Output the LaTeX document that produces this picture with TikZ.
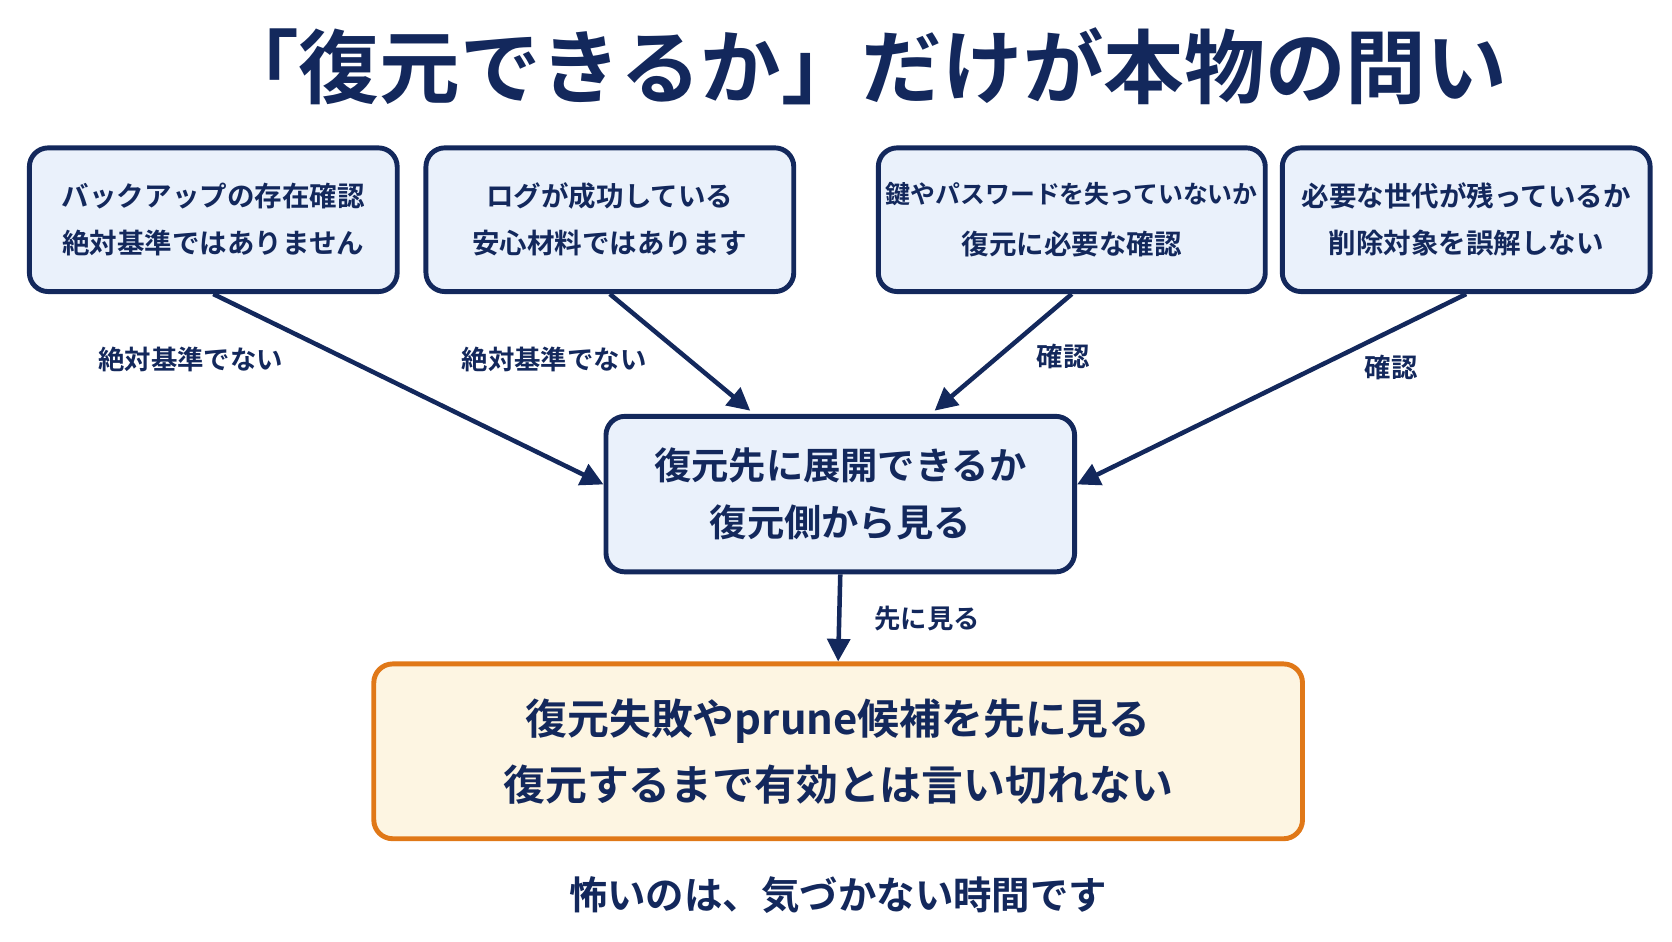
\documentclass[tikz,border=0pt]{standalone}
\usepackage{fontspec}
\setmainfont{Noto Sans CJK JP}[BoldFont={* Bold}]
\usetikzlibrary{calc,arrows.meta}
\definecolor{navy}{HTML}{13285C}
\definecolor{boxfill}{HTML}{EAF1FB}
\definecolor{orng}{HTML}{E07818}
\definecolor{cream}{HTML}{FDF5E2}
\tikzset{
  box/.style={draw=navy,fill=boxfill,line width=1.3pt,rounded corners=5pt,align=center,text=navy,font=\bfseries\fontsize{7.3}{12.5}\selectfont,minimum width=3.43cm,minimum height=1.34cm,inner xsep=2pt},
  lbl/.style={text=navy,font=\bfseries\fontsize{7}{8}\selectfont},
  arr/.style={draw=navy,line width=1.2pt,-{Triangle[length=6pt,width=6pt]}}
}
\begin{document}
\begin{tikzpicture}[x=0.01cm,y=-0.01cm]
            \useasboundingbox (0,0) rectangle (1560,878);
            \node[text=navy,font=\bfseries\fontsize{21.4}{24}\selectfont] (title) at (805,62) {「復元できるか」だけが本物の問い};

            \node[box] (b1) at (199,205) {バックアップの存在確認\\絶対基準ではありません};
            \node[box] (b2) at (569,205) {ログが成功している\\安心材料ではあります};
            \node[box,minimum width=3.38cm,font=\bfseries\fontsize{6.6}{13.5}\selectfont] (b3) at (1000,205) {鍵やパスワードを失っていないか\\{\fontsize{7.3}{8}\selectfont 復元に必要な確認}};
            \node[box] (b4) at (1368,205) {必要な世代が残っているか\\削除対象を誤解しない};

            \node[box,minimum width=4.37cm,minimum height=1.45cm,font=\bfseries\fontsize{9.9}{15}\selectfont] (mid) at (784,461) {復元先に展開できるか\\復元側から見る};
            \node[box,draw=orng,fill=cream,minimum width=8.66cm,minimum height=1.63cm,font=\bfseries\fontsize{11.1}{17.5}\selectfont] (res) at (782,701) {復元失敗やprune候補を先に見る\\復元するまで有効とは言い切れない};

            \node[text=navy,font=\bfseries\fontsize{10.2}{12}\selectfont] (foot) at (782,835) {怖いのは、気づかない時間です};

            \draw[arr] (b1.south) -- ($(mid.west)+(0,-9)$);
            \draw[arr] (b2.south) -- ($(mid.north)+(-84,-3)$);
            \draw[arr] (b3.south) -- ($(mid.north)+(88,-3)$);
            \draw[arr] (b4.south) -- ($(mid.east)+(0,-9)$);
            \draw[arr] (mid.south) -- (res.north);

            \node[lbl] (l1) at (178,335) {絶対基準でない};
            \node[lbl] (l2) at (517,335) {絶対基準でない};
            \node[lbl] (l3) at (992,333) {確認};
            \node[lbl] (l4) at (1298,343) {確認};
            \node[lbl] (l5) at (865,577) {先に見る};
        \end{tikzpicture}
\end{document}
